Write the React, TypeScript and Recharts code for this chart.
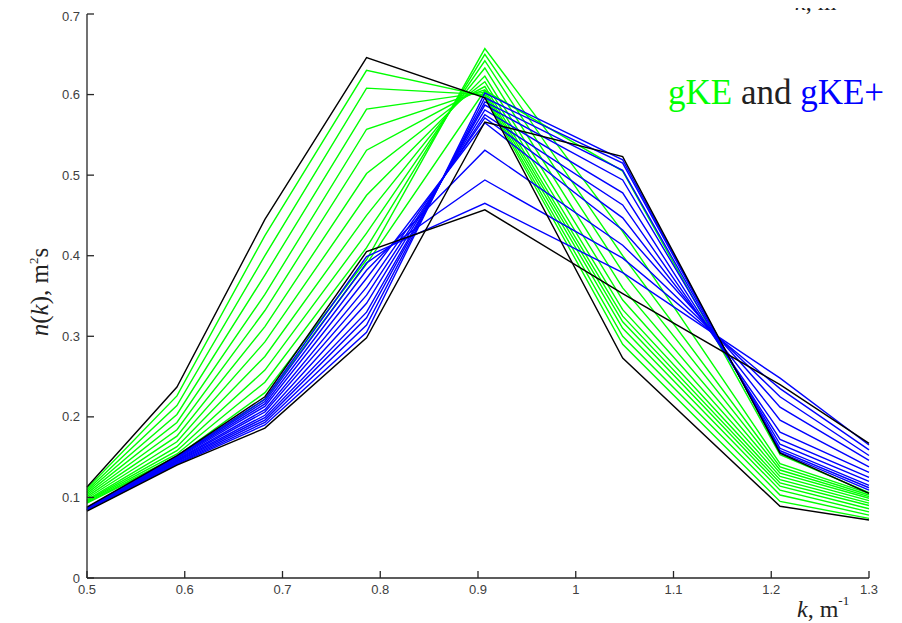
import React from "react";
import { LineChart, Line, XAxis, YAxis } from "recharts";

// wavenumbers of the eight spectral points
const kValues = [0.5, 0.592, 0.682, 0.786, 0.907, 1.048, 1.209, 1.3];

// black reference curves
const blackA = [0.113, 0.237, 0.445, 0.646, 0.596, 0.273, 0.089, 0.072];
const blackB = [0.088, 0.152, 0.225, 0.405, 0.457, 0.353, 0.24, 0.167];
const blackC = [0.083, 0.14, 0.186, 0.298, 0.566, 0.523, 0.155, 0.105];

// gKE runs (green)
const gkeLines = [
    [0.111, 0.226, 0.425, 0.63, 0.598, 0.29, 0.095, 0.074],
    [0.109, 0.214, 0.4, 0.608, 0.6, 0.3, 0.103, 0.078],
    [0.107, 0.203, 0.376, 0.582, 0.603, 0.31, 0.109, 0.082],
    [0.105, 0.193, 0.352, 0.557, 0.606, 0.318, 0.114, 0.086],
    [0.103, 0.184, 0.332, 0.531, 0.61, 0.325, 0.118, 0.09],
    [0.101, 0.176, 0.312, 0.502, 0.616, 0.333, 0.122, 0.093],
    [0.099, 0.169, 0.293, 0.475, 0.623, 0.345, 0.126, 0.096],
    [0.097, 0.163, 0.275, 0.45, 0.633, 0.36, 0.13, 0.099],
    [0.096, 0.158, 0.258, 0.428, 0.642, 0.38, 0.134, 0.101],
    [0.095, 0.154, 0.243, 0.41, 0.65, 0.4, 0.138, 0.103],
    [0.094, 0.151, 0.23, 0.395, 0.657, 0.43, 0.142, 0.105],
    [0.093, 0.149, 0.222, 0.39, 0.605, 0.505, 0.153, 0.106],
];

// gKE+ runs (blue)
const gkePlusLines = [
    [0.0875, 0.151, 0.222, 0.399, 0.465, 0.379, 0.248, 0.165],
    [0.087, 0.15, 0.219, 0.391, 0.494, 0.397, 0.235, 0.159],
    [0.0865, 0.149, 0.216, 0.382, 0.531, 0.413, 0.225, 0.152],
    [0.086, 0.148, 0.213, 0.372, 0.565, 0.432, 0.212, 0.146],
    [0.0855, 0.147, 0.209, 0.361, 0.571, 0.447, 0.196, 0.138],
    [0.085, 0.146, 0.206, 0.351, 0.575, 0.463, 0.181, 0.131],
    [0.0848, 0.145, 0.202, 0.341, 0.581, 0.478, 0.172, 0.125],
    [0.0845, 0.144, 0.199, 0.33, 0.587, 0.494, 0.166, 0.12],
    [0.0842, 0.143, 0.196, 0.323, 0.591, 0.506, 0.161, 0.115],
    [0.084, 0.142, 0.193, 0.314, 0.596, 0.515, 0.158, 0.112],
    [0.0838, 0.141, 0.19, 0.305, 0.602, 0.519, 0.156, 0.109],
];

const xTicks = [0.5, 0.6, 0.7, 0.8, 0.9, 1, 1.1, 1.2, 1.3];
const yTicks = [0, 0.1, 0.2, 0.3, 0.4, 0.5, 0.6, 0.7];

const rows = kValues.map((k, i) => {
    const row: Record<string, number> = { k, a: blackA[i], b: blackB[i], c: blackC[i] };
    gkeLines.forEach((s, j) => (row[`g${j}`] = s[i]));
    gkePlusLines.forEach((s, j) => (row[`p${j}`] = s[i]));
    return row;
});

const W = 894;
const H = 615;
const tickFont = { fontFamily: "Liberation Sans, Arial, sans-serif", fontSize: 13, fill: "#404040" };
const serif = "'Liberation Serif', 'Times New Roman', serif";

export default function App() {
    return (
        <div style={{ position: "relative", width: W, height: H }}>
            <LineChart width={W} height={H} data={rows} margin={{ top: 6, right: 33, bottom: 0, left: 19 }}>
                <XAxis
                    dataKey="k"
                    type="number"
                    domain={[0.5, 1.3]}
                    ticks={xTicks}
                    tickFormatter={(v: number) => String(v)}
                    height={45}
                    tickSize={-7}
                    tickMargin={14}
                    tick={tickFont}
                    axisLine={{ stroke: "#262626", strokeWidth: 1.3 }}
                    tickLine={{ stroke: "#262626", strokeWidth: 1.3 }}
                />
                <YAxis
                    type="number"
                    domain={[0, 0.7]}
                    ticks={yTicks}
                    tickFormatter={(v: number) => String(v)}
                    width={60}
                    tickSize={-7}
                    tickMargin={14}
                    tick={tickFont}
                    axisLine={{ stroke: "#262626", strokeWidth: 1.3 }}
                    tickLine={{ stroke: "#262626", strokeWidth: 1.3 }}
                />
                {gkeLines.map((_, j) => (
                    <Line key={`g${j}`} dataKey={`g${j}`} type="linear" stroke="#00ff00" strokeWidth={1.4} dot={false} isAnimationActive={false} />
                ))}
                {gkePlusLines.map((_, j) => (
                    <Line key={`p${j}`} dataKey={`p${j}`} type="linear" stroke="#0000ff" strokeWidth={1.4} dot={false} isAnimationActive={false} />
                ))}
                <Line dataKey="a" type="linear" stroke="#000" strokeWidth={1.4} dot={false} isAnimationActive={false} />
                <Line dataKey="b" type="linear" stroke="#000" strokeWidth={1.4} dot={false} isAnimationActive={false} />
                <Line dataKey="c" type="linear" stroke="#000" strokeWidth={1.4} dot={false} isAnimationActive={false} />
            </LineChart>
            {/* text overlay in page coordinates */}
            <svg width={902} height={623} style={{ position: "absolute", left: -8, top: -8, pointerEvents: "none" }}>
                <text x={795} y={10} fontFamily={serif} fontSize={24} fill="#222">
                    <tspan fontStyle="italic">k</tspan>, m
                </text>
                <text x={668} y={104} fontFamily={serif} fontSize={35}>
                    <tspan fill="#00ff00">gKE</tspan>
                    <tspan fill="#222"> and </tspan>
                    <tspan fill="#0000ff">gKE+</tspan>
                </text>
                <text x={48} y={292} fontFamily={serif} fontSize={25} fill="#222" textAnchor="middle" transform="rotate(-90, 48, 292)">
                    <tspan fontStyle="italic">n</tspan>(<tspan fontStyle="italic">k</tspan>), m<tspan fontSize={13} dy={-10}>2</tspan><tspan dy={10}>s</tspan>
                </text>
                <text x={797} y={617} fontFamily={serif} fontSize={24} fill="#222">
                    <tspan fontStyle="italic">k</tspan>, m<tspan fontSize={13} dy={-12}>-1</tspan>
                </text>
            </svg>
        </div>
    );
}
